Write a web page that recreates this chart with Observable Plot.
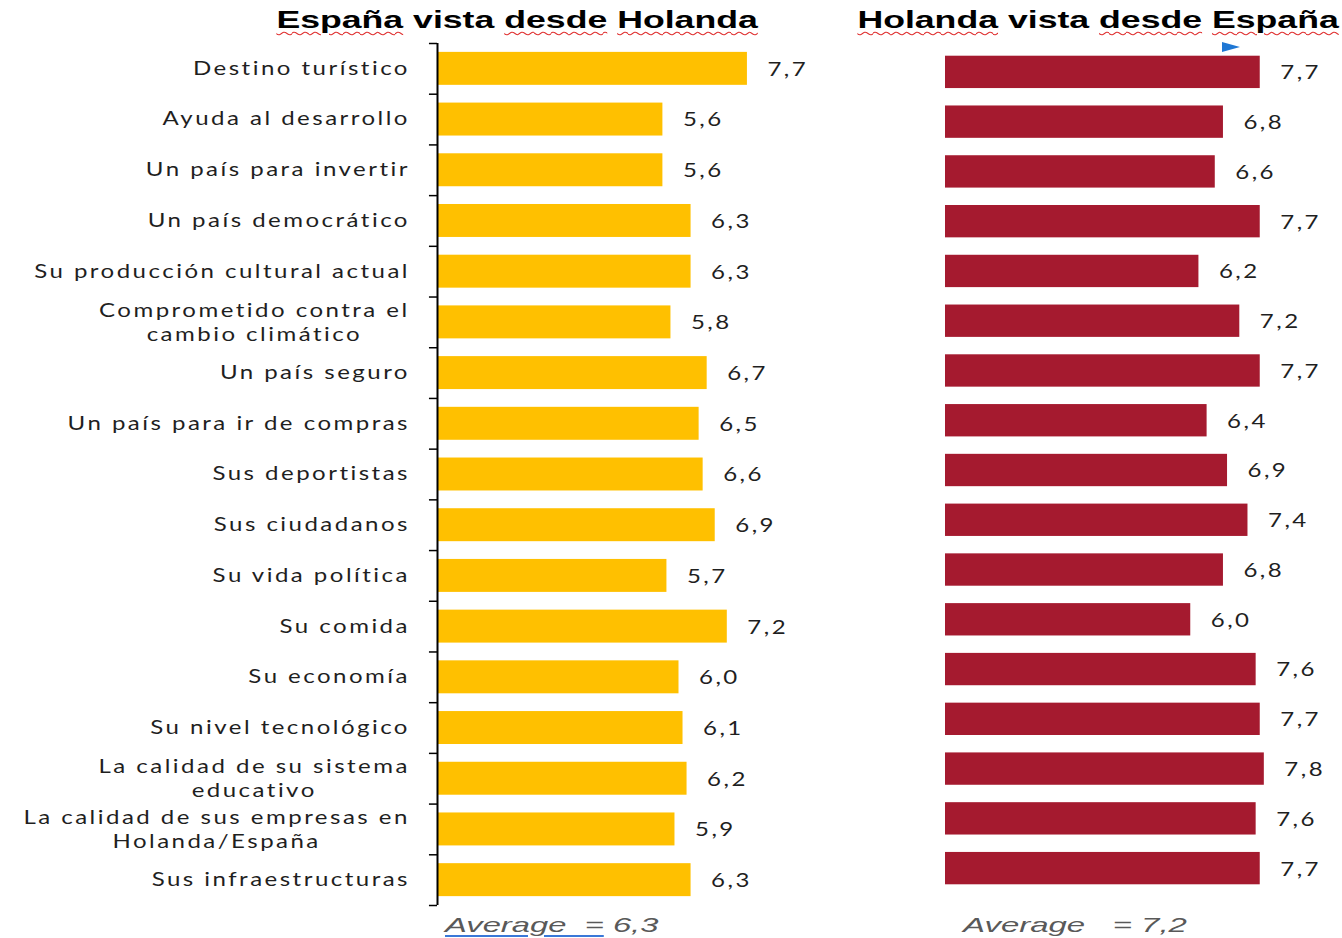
<!DOCTYPE html>
<html><head><meta charset="utf-8">
<script src="https://cdn.jsdelivr.net/npm/d3@7"></script>
<script src="https://cdn.jsdelivr.net/npm/@observablehq/plot@0.6"></script>
<style>
body{margin:0;background:#fff;}
#wrap{position:relative;width:1342px;height:938px;overflow:hidden;font-family:"Liberation Sans",Arial,sans-serif;}
.title{position:absolute;top:6px;width:520px;text-align:center;white-space:nowrap;}
.title span.in{display:inline-block;font-weight:bold;font-size:24px;color:#000;transform:scaleX(1.485);transform-origin:center;}
.sp{text-decoration:underline wavy #e03030;text-decoration-thickness:1px;text-underline-offset:3px;}
.avg{position:absolute;top:913px;white-space:pre;}
.avg span.in{display:inline-block;font-style:italic;font-size:21px;color:#595959;transform-origin:left center;}
.u{text-decoration:underline #3a78d8;text-decoration-thickness:2px;text-underline-offset:3px;}
.plotbox{position:absolute;top:0;}
.plotbox svg{overflow:visible;}
.plotbox svg text{letter-spacing:1.9px;}
#tri{position:absolute;left:1222px;top:42px;width:0;height:0;border-left:18px solid #1f77d4;border-top:5px solid transparent;border-bottom:5px solid transparent;}
</style></head><body>
<div id="wrap">
  <div class="title" style="left:257px"><span class="in"><span class="sp">España</span> vista <span class="sp">desde</span> <span class="sp">Holanda</span></span></div>
  <div class="title" style="left:838px"><span class="in"><span class="sp">Holanda</span> vista <span class="sp">desde</span> <span class="sp">España</span></span></div>
  <div class="plotbox" id="left" style="left:0px"></div>
  <div class="plotbox" id="right" style="left:900px"></div>
  <div id="tri"></div>
  <div class="avg" style="left:445px"><span class="in" style="transform:scaleX(1.56)"><span class="u">Average  =</span> 6,3</span></div>
  <div class="avg" style="left:963px"><span class="in" style="transform:scaleX(1.57)">Average   = 7,2</span></div>
</div>
<script>
const categories = [
  "Destino turístico",
  "Ayuda al desarrollo",
  "Un país para invertir",
  "Un país democrático",
  "Su producción cultural actual",
  "Comprometido contra el\ncambio climático",
  "Un país seguro",
  "Un país para ir de compras",
  "Sus deportistas",
  "Sus ciudadanos",
  "Su vida política",
  "Su comida",
  "Su economía",
  "Su nivel tecnológico",
  "La calidad de su sistema\neducativo",
  "La calidad de sus empresas en\nHolanda/España",
  "Sus infraestructuras"
];
const spainSeenFromNL = [7.7, 5.6, 5.6, 6.3, 6.3, 5.8, 6.7, 6.5, 6.6, 6.9, 5.7, 7.2, 6.0, 6.1, 6.2, 5.9, 6.3];
const nlSeenFromSpain = [7.7, 6.8, 6.6, 7.7, 6.2, 7.2, 7.7, 6.4, 6.9, 7.4, 6.8, 6.0, 7.6, 7.7, 7.8, 7.6, 7.7];

const fmt = v => v.toFixed(1).replace(".", ",");
const rows = categories.map((c, i) => ({cat: c, es: spainSeenFromNL[i], nl: nlSeenFromSpain[i]}));

const labelFont = "Lato";
const labelSize = 18.5;
const labelSpacing = 1.9;   // px, before horizontal stretch
const stretch = 1.3;        // horizontal glyph stretch of the original
const textColor = "#1f1f1f";

const ctx = document.createElement("canvas").getContext("2d");
ctx.font = `${labelSize}px ${labelFont}`;
const measure = s => (ctx.measureText(s).width + labelSpacing * s.length) * stretch;
const trail = labelSpacing * stretch;

function stretchTexts(svg) {
  d3.select(svg).selectAll("text").each(function () {
    const xa = +(this.getAttribute("x") || 0);
    const t = this.getAttribute("transform") || "";
    this.setAttribute("transform", `${t} translate(${xa},0) scale(${stretch},1) translate(${-xa},0)`);
  });
  return svg;
}

function bandPlot({key, fill, width, height, marginTop, marginBottom, marginLeft, marginRight, withAxis}) {
  const n = categories.length;
  const step = (height - marginTop - marginBottom) / n;
  const marks = [
    Plot.barX(rows, {x: key, y: "cat", fill}),
    Plot.text(rows, {x: key, y: "cat", text: d => fmt(d[key]), textAnchor: "start", dx: 20, dy: 1,
      fill: textColor, fontSize: labelSize, fontFamily: labelFont})
  ];
  if (withAxis) {
    marks.push(Plot.ruleX([0], {stroke: "#000", strokeWidth: 2}));
    marks.push(Plot.ruleY(categories, {y: d => d, x1: -0.2, x2: 0, dy: -step / 2, stroke: "#000", strokeWidth: 1.5}));
    marks.push(Plot.ruleY(categories.slice(-1), {y: d => d, x1: -0.2, x2: 0, dy: step / 2, stroke: "#000", strokeWidth: 1.5}));
    const single = rows.filter(d => !d.cat.includes("\n"));
    marks.push(Plot.text(single, {x: d => 0, y: "cat", text: "cat", textAnchor: "end", dx: -30 + trail,
      fill: textColor, fontSize: labelSize, fontFamily: labelFont}));
    rows.filter(d => d.cat.includes("\n")).forEach(d => {
      const w = Math.max(...d.cat.split("\n").map(measure));
      marks.push(Plot.text([d], {x: () => 0, y: "cat", text: "cat", textAnchor: "middle", dx: -30 - w / 2 + trail,
        lineHeight: 1.3, dy: -1, fill: textColor, fontSize: labelSize, fontFamily: labelFont}));
    });
  }
  return stretchTexts(Plot.plot({
    width, height, marginTop, marginBottom, marginLeft, marginRight,
    x: {domain: [0, 8], axis: null},
    y: {domain: categories, paddingInner: 0.35, paddingOuter: 0.175, round: false, axis: null},
    style: {background: "transparent", overflow: "visible"},
    marks
  }));
}

document.getElementById("left").append(bandPlot({
  key: "es", fill: "#FFC000", width: 800, height: 912, marginTop: 43, marginBottom: 7,
  marginLeft: 437, marginRight: 41, withAxis: true
}));
document.getElementById("right").append(bandPlot({
  key: "nl", fill: "#A51A2F", width: 440, height: 900, marginTop: 47, marginBottom: 7,
  marginLeft: 45, marginRight: 68, withAxis: false
}));
</script>
</body></html>
